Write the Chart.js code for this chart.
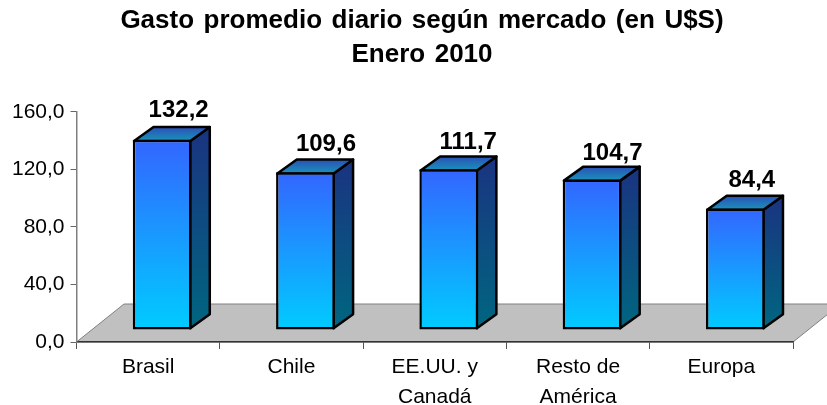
<!DOCTYPE html>
<html><head><meta charset="utf-8">
<style>html,body{margin:0;padding:0;background:#fff}#w{width:827px;height:405px}</style>
<script src="https://cdn.jsdelivr.net/npm/chart.js@4"></script>
</head><body><div id="w"><canvas id="c" width="827" height="405"></canvas></div>
<script>
const categories = [['Brasil'], ['Chile'], ['EE.UU. y','Canadá'], ['Resto de','América'], ['Europa']];
const gasto = [132.2, 109.6, 111.7, 104.7, 84.4];
const titleLines = ['Gasto promedio diario según mercado (en U$S)', 'Enero 2010'];
const FONT = '"Liberation Sans", Arial, sans-serif';
const SHIFT = {x: 14, y: -12};
const DEPTH = {x: 19.5, y: -14};
const FLOOR = {x: 47.5, y: -38};
const LABEL_DX = [0, 4, 3, 4, 0];
const LABEL_DY = [0, 2, 3, 4, 1];
const BORDER = 2.5;
const fmt = v => v.toFixed(1).replace('.', ',');

const threeD = {
  id: 'threeD',
  afterLayout(chart) {
    const tb = chart.titleBlock, draw = tb.draw, c = chart.ctx;
    tb.left = 17;
    tb.right = 827;
    tb.draw = function () {
      c.wordSpacing = '2.3px';
      draw.call(this);
      c.wordSpacing = '0px';
    };
  },
  beforeDraw(chart) {
    const a = chart.chartArea, c = chart.ctx;
    c.save();
    c.beginPath();
    c.moveTo(a.left, a.bottom);
    c.lineTo(a.right, a.bottom);
    c.lineTo(a.right + FLOOR.x, a.bottom + FLOOR.y);
    c.lineTo(a.left + FLOOR.x, a.bottom + FLOOR.y);
    c.closePath();
    c.fillStyle = '#C0C0C0';
    c.fill();
    c.strokeStyle = '#808080';
    c.lineWidth = 1;
    c.stroke();
    c.restore();
  },
  beforeDatasetDraw(chart) {
    const c = chart.ctx;
    c.save();
    c.translate(SHIFT.x, SHIFT.y);
    chart.getDatasetMeta(0).data.forEach(bar => {
      const h = BORDER / 2, w = bar.width, l = bar.x - w / 2 + h, r = bar.x + w / 2 - h, t = bar.y + h, b = bar.base - h;
      c.lineWidth = BORDER;
      c.strokeStyle = '#000';
      c.lineJoin = 'round';
      let g = c.createLinearGradient(0, t + DEPTH.y, 0, b);
      g.addColorStop(0, '#1A3380');
      g.addColorStop(1, '#006680');
      c.beginPath();
      c.moveTo(r, t); c.lineTo(r + DEPTH.x, t + DEPTH.y);
      c.lineTo(r + DEPTH.x, b + DEPTH.y); c.lineTo(r, b);
      c.closePath(); c.fillStyle = g; c.fill(); c.stroke();
      g = c.createLinearGradient(0, t + DEPTH.y, 0, t);
      g.addColorStop(0, '#2A50B8');
      g.addColorStop(1, '#1A94B8');
      c.beginPath();
      c.moveTo(l, t); c.lineTo(l + DEPTH.x, t + DEPTH.y);
      c.lineTo(r + DEPTH.x, t + DEPTH.y); c.lineTo(r, t);
      c.closePath(); c.fillStyle = g; c.fill(); c.stroke();
    });
  },
  afterDatasetDraw(chart) {
    const c = chart.ctx;
    chart.getDatasetMeta(0).data.forEach((bar, i) => {
      c.fillStyle = '#000';
      c.font = 'bold 24px ' + FONT;
      c.textAlign = 'center';
      c.textBaseline = 'alphabetic';
      c.fillText(fmt(gasto[i]), bar.x + 16.5 + LABEL_DX[i], bar.y - 23 + LABEL_DY[i]);
    });
    c.restore();
  }
};

new Chart(document.getElementById('c'), {
  type: 'bar',
  plugins: [threeD],
  data: {
    labels: categories,
    datasets: [{
      data: gasto,
      categoryPercentage: 0.41,
      barPercentage: 1,
      borderWidth: BORDER,
      borderColor: '#000',
      borderSkipped: false,
      backgroundColor(ctx) {
        const chart = ctx.chart, y = chart.scales.y;
        if (!y || !chart.chartArea) return '#3366FF';
        const top = y.getPixelForValue(gasto[ctx.dataIndex]), bottom = y.getPixelForValue(0);
        const g = chart.ctx.createLinearGradient(0, top, 0, bottom);
        g.addColorStop(0, '#3366FF');
        g.addColorStop(1, '#00CCFF');
        return g;
      }
    }]
  },
  options: {
    responsive: false,
    animation: false,
    layout: {padding: {left: 0, right: 34, top: 0, bottom: 0}},
    plugins: {
      legend: {display: false},
      tooltip: {enabled: false},
      title: {
        display: true,
        text: titleLines,
        color: '#000',
        font: {family: FONT, size: 26, weight: 'bold', lineHeight: 1.31},
        padding: {top: 4, bottom: 39.7}
      }
    },
    scales: {
      x: {
        grid: {drawOnChartArea: false, drawTicks: true, tickLength: 7, color: '#555'},
        border: {color: '#333', width: 1.5},
        ticks: {color: '#000', font: {family: FONT, size: 21, lineHeight: 1.45}, padding: 3, maxRotation: 0, minRotation: 0, autoSkip: false},
        afterFit(s) { s.height = 63; s.paddingLeft = 0; s.paddingRight = 0; }
      },
      y: {
        min: 0, max: 160,
        grid: {drawOnChartArea: false, drawTicks: true, tickLength: 6, color: '#666'},
        border: {color: '#808080', width: 1.5},
        ticks: {stepSize: 40, color: '#000', padding: 6, font: {family: FONT, size: 21}, callback: v => fmt(v)},
        afterFit(s) { s.width = 76.5; s.paddingTop = 0; s.paddingBottom = 0; }
      }
    }
  }
});
</script></body></html>
